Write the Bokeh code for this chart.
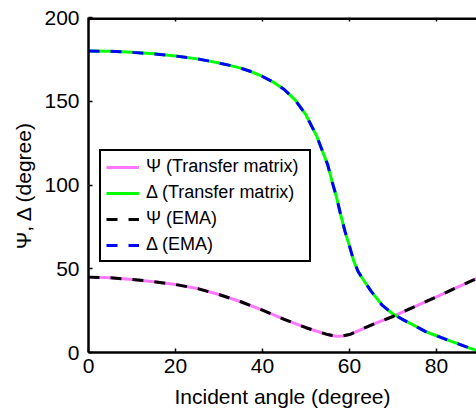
from bokeh.plotting import figure
from bokeh.models import (FixedTicker, Legend, LegendItem, Range1d)
from bokeh.embed import file_html
from bokeh.resources import INLINE

# ---- data ----
angle_psi = [0, 5, 10, 15, 20, 25, 30, 35, 40, 45, 50, 52.5, 55, 56, 57, 58.5, 60, 62.5, 65, 67.5, 70,
             75, 80, 85, 90]
psi_tm = [45, 44.6, 43.6, 42.3, 40.6, 38.2, 34.6, 30.3, 25.3, 19.8, 14.8, 12.7, 10.7, 10.1, 9.7, 9.9,
          10.7, 13.5, 16.4, 19.0, 21.5, 27.4, 33.2, 39.2, 45]
psi_ema = [45, 44.6, 43.6, 42.3, 40.6, 38.2, 34.6, 30.3, 25.3, 19.8, 14.8, 12.7, 10.7, 10.1, 9.7, 9.9,
           10.7, 13.5, 16.4, 19.0, 21.5, 27.4, 33.2, 39.2, 45]

angle_delta = [0, 5, 10, 15, 20, 25, 27.5, 30, 32.5, 35, 37.5, 40, 42.5, 45, 47.5, 50, 52.5, 55, 56,
               57, 58, 59, 60, 61, 62, 63, 64, 65, 67.5, 70, 72.5, 75, 77.5, 80, 82.5, 85, 87.5, 90]
delta_tm = [180, 179.8, 179.2, 178.3, 177, 175.3, 174.1, 172.8, 171.4, 169.8, 167.6, 164.8, 161.4,
            157.0, 150.8, 141.8, 129, 112, 102, 93, 82, 72, 63.5, 54.5, 48.3, 44.2, 40.3, 36.5,
            28.3, 23, 19.3, 16, 12.5, 10, 7.5, 5.2, 2.8, 0.5]
delta_ema = [180, 179.8, 179.2, 178.3, 177, 175.3, 174.1, 172.8, 171.4, 169.8, 167.6, 164.8, 161.4,
             157.0, 150.8, 141.8, 129, 112, 102, 93, 82, 72, 63.5, 54.5, 48.3, 44.2, 40.3, 36.5,
             28.3, 23, 19.3, 16, 12.5, 10, 7.5, 5.2, 2.8, 0.5]

x_ticks = [0, 20, 40, 60, 80]
y_ticks = [0, 50, 100, 150, 200]
x_lo, x_hi = 0, 89.2
y_lo, y_hi = 0, 200

labels = ["\u03a8 (Transfer matrix)", "\u0394 (Transfer matrix)", "\u03a8 (EMA)", "\u0394 (EMA)"]
x_label = "Incident angle (degree)"
y_label = "\u03a8, \u0394 (degree)"

FONT = "Liberation Sans"
W, H = 476, 414
BL, BR, BT, BB = 88, 0, 17, 62
frame_h = H - BT - BB

p = figure(width=W, height=H, x_range=Range1d(x_lo, x_hi), y_range=Range1d(y_lo, y_hi),
           output_backend="svg", toolbar_location=None,
           min_border_left=BL, min_border_right=BR, min_border_top=BT, min_border_bottom=BB)
p.xgrid.visible = False
p.ygrid.visible = False
p.outline_line_color = None
p.background_fill_color = "white"
p.border_fill_color = "white"


def style_axis(ax, ticks, standoff):
    ax.ticker = FixedTicker(ticks=ticks)
    ax.axis_line_width = 2.5
    ax.axis_line_color = "black"
    ax.major_tick_in = 4
    ax.major_tick_out = 0
    ax.major_tick_line_width = 1.5
    ax.major_tick_line_color = "black"
    ax.minor_tick_line_color = None
    ax.major_label_text_font = FONT
    ax.major_label_text_color = "black"
    ax.major_label_text_font_size = "21px"
    ax.major_label_standoff = standoff
    ax.axis_label_text_font = FONT
    ax.axis_label_text_font_size = "21px"
    ax.axis_label_text_font_style = "normal"
    ax.axis_label_text_color = "black"


style_axis(p.xaxis[0], x_ticks, 6)
p.xaxis[0].axis_label = x_label
p.xaxis[0].axis_label_standoff = 9
style_axis(p.yaxis[0], y_ticks, 9)
p.yaxis[0].axis_label = y_label
p.yaxis[0].axis_label_standoff = 6

# top frame line and its inward ticks (no labels on the top side)
tick_len = 4 * (y_hi - y_lo) / frame_h
p.line([x_lo, x_hi], [y_hi, y_hi], line_color="black", line_width=5)
p.segment(x0=x_ticks, y0=[y_hi] * len(x_ticks), x1=x_ticks,
          y1=[y_hi - tick_len] * len(x_ticks), line_color="black", line_width=1.5)

r1 = p.line(angle_psi, psi_tm, line_color="#ff77ff", line_width=3)
r2 = p.line(angle_delta, delta_tm, line_color="#00ff00", line_width=3)
r3 = p.line(angle_psi, psi_ema, line_color="black", line_width=3, line_dash="11 11")
r4 = p.line(angle_delta, delta_ema, line_color="#0000ff", line_width=3, line_dash="11 11")

legend = Legend(items=[LegendItem(label=labels[0], renderers=[r1]),
                       LegendItem(label=labels[1], renderers=[r2]),
                       LegendItem(label=labels[2], renderers=[r3]),
                       LegendItem(label=labels[3], renderers=[r4])],
                location=(11, 90), margin=0, padding=5, spacing=5,
                glyph_height=20, glyph_width=33, label_height=20, label_width=158,
                label_standoff=7, label_text_font=FONT, label_text_font_size="18px",
                label_text_color="black",
                border_line_color="black", border_line_width=2, border_line_alpha=1.0,
                background_fill_color="white", background_fill_alpha=1.0)
p.add_layout(legend)

open("out.html", "w").write(file_html(p, INLINE))
